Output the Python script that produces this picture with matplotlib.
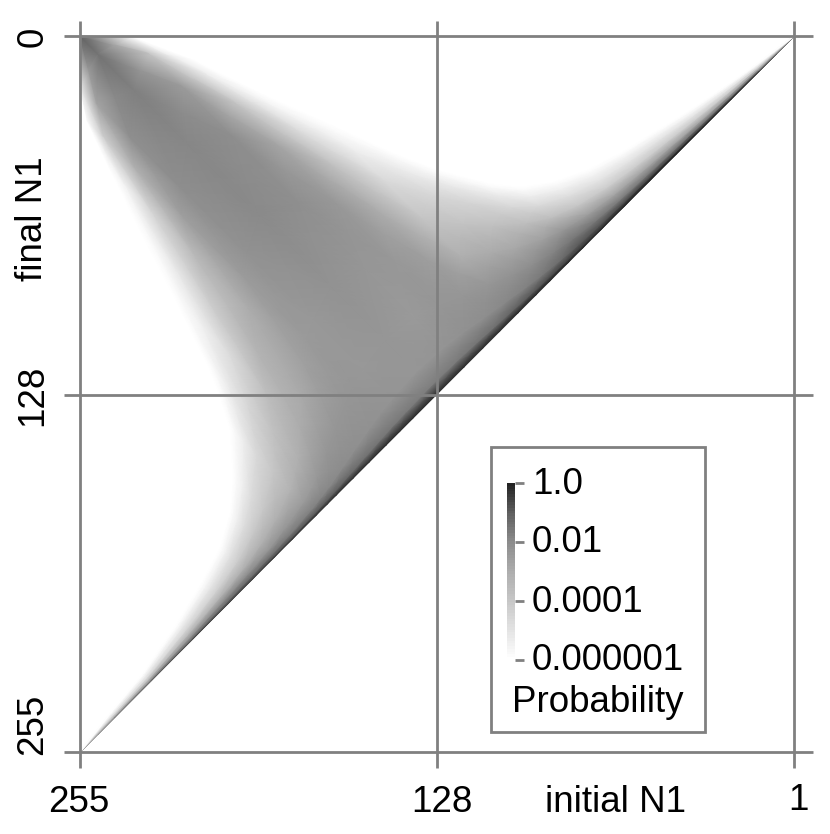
"""
Probability of the final N1 for a given initial N1, grey shaded on a log scale.
"""
import matplotlib
matplotlib.use('Agg')
import matplotlib.pyplot as plt
import numpy as np
from matplotlib.colors import LinearSegmentedColormap, Normalize
from matplotlib.patches import Rectangle

plt.rcParams['font.family'] = ['Liberation Sans', 'DejaVu Sans']

# The shaded area is read along rays that leave the diagonal and end on the
# outline of the area. Each ray: its start on the diagonal (initial N1) and
# its end point on the outline.
ray_start = [255.0, 242.7, 229.7, 214.8, 202.5, 193.6, 185.8, 179.4, 171.0,
             167.0, 163.9, 157.9, 152.2, 146.1, 141.3, 136.7, 127.6, 118.4,
             111.8, 105.8, 99.2, 92.8, 88.0, 81.4, 76.2, 69.5, 61.3, 52.4,
             42.9, 33.2, 23.4, 13.5, 1.0]
edge_initial = [255.0, 244.3, 232.6, 220.5, 211.2, 205.2, 201.6, 200.6, 201.6,
                205.2, 208.8, 220.5, 232.6, 244.3, 252.5, 255.0, 255.0, 236.1,
                214.8, 191.0, 167.1, 143.7, 128.0, 110.2, 98.5, 86.7, 74.6,
                62.9, 51.2, 39.1, 27.3, 15.6, 1.0]
edge_final = [255.0, 241.1, 226.9, 209.0, 193.7, 182.0, 169.9, 158.1, 140.3,
              128.6, 118.9, 95.1, 71.6, 47.7, 29.9, 18.2, 0.0, 0.4,
              8.5, 20.3, 31.0, 41.7, 47.7, 52.4, 53.8, 52.0, 47.7, 41.7,
              34.5, 27.1, 19.2, 11.0, 0.0]

# Where on each ray the values were read (0 = diagonal, 1 = outline)
ray_fraction = [0, 0.02, 0.06, 0.15, 0.3, 0.5, 0.7, 0.85, 0.95, 1]

# log10 of the probability, one row per ray
log_prob = [
    [-1.6, -1.9, -2.4, -3.0, -3.8, -4.6, -5.2, -5.6, -5.9, -6],
    [-1.19, -1.53, -2.15, -3.08, -4.2, -5.03, -5.53, -5.82, -5.96, -6],
    [-0.8, -1.07, -1.65, -2.6, -3.85, -4.82, -5.39, -5.75, -5.93, -6],
    [-0.54, -0.8, -1.42, -2.3, -3.46, -4.57, -5.21, -5.71, -5.93, -6],
    [-0.37, -0.71, -1.3, -2.0, -3.2, -4.4, -5.1, -5.64, -5.89, -6],
    [-0.34, -0.71, -1.3, -2.0, -3.08, -4.2, -4.93, -5.53, -5.89, -6],
    [-0.29, -0.8, -1.42, -2.3, -3.08, -4.04, -4.82, -5.46, -5.82, -6],
    [-0.29, -0.88, -1.65, -2.3, -3.08, -4.04, -4.75, -5.46, -5.82, -6],
    [-0.24, -0.95, -1.77, -2.45, -3.2, -3.96, -4.64, -5.39, -5.82, -6],
    [-0.24, -1.0, -1.85, -2.45, -3.08, -3.85, -4.57, -5.28, -5.82, -6],
    [-0.2, -1.05, -1.9, -2.36, -3.08, -3.77, -4.57, -5.28, -5.82, -6],
    [-0.2, -1.2, -2.0, -2.3, -2.97, -3.65, -4.75, -5.46, -5.82, -6],
    [-0.17, -1.4, -2.1, -2.3, -2.9, -3.27, -4.2, -5.17, -5.82, -6],
    [-0.12, -1.5, -2.15, -2.3, -2.6, -2.97, -3.46, -4.46, -5.53, -6],
    [-0.12, -1.55, -2.2, -2.3, -2.4, -2.45, -2.55, -3.1, -4.2, -5.82],
    [-0.12, -1.6, -2.25, -2.36, -2.35, -2.2, -2.05, -2.1, -2.7, -5.28],
    [-0.12, -1.7, -2.3, -2.3, -2.2, -1.95, -1.88, -1.72, -1.42, -1.07],
    [-0.12, -1.6, -2.25, -2.4, -2.3, -2.1, -2.05, -2.45, -3.9, -6],
    [-0.12, -1.5, -2.15, -2.3, -2.35, -2.35, -2.75, -3.9, -5.39, -6],
    [-0.1, -1.35, -2.05, -2.3, -2.54, -2.97, -3.73, -4.75, -5.64, -6],
    [-0.07, -1.1, -1.9, -2.3, -3.08, -3.92, -4.68, -5.35, -5.82, -6],
    [-0.05, -0.9, -1.75, -2.18, -2.94, -3.85, -4.57, -5.28, -5.78, -6],
    [-0.03, -0.75, -1.55, -2.06, -2.82, -3.73, -4.46, -5.21, -5.78, -6],
    [0, -0.54, -1.2, -1.77, -2.6, -3.65, -4.57, -5.28, -5.82, -6],
    [0, -0.46, -0.9, -1.5, -2.3, -3.65, -4.68, -5.39, -5.82, -6],
    [0, -0.34, -0.8, -1.53, -2.54, -3.96, -4.82, -5.46, -5.82, -6],
    [0, -0.2, -0.71, -1.65, -2.76, -4.2, -5.03, -5.53, -5.86, -6],
    [0, -0.1, -0.6, -1.6, -2.76, -4.2, -5.03, -5.55, -5.88, -6],
    [0, -0.03, -0.54, -1.53, -2.76, -4.2, -5.03, -5.57, -5.89, -6],
    [0, 0, -0.5, -1.5, -2.8, -4.25, -5.05, -5.6, -5.9, -6],
    [0, 0, -0.5, -1.5, -2.85, -4.3, -5.1, -5.6, -5.9, -6],
    [0, -0.02, -0.6, -1.6, -2.9, -4.4, -5.2, -5.64, -5.89, -6],
    [-0.5, -1.0, -1.6, -2.4, -3.3, -4.4, -5.2, -5.6, -5.9, -6],
]

# Axis marks
initial_ticks = [255, 128, 1]
final_ticks = [0, 128, 255]

# Legend scale
legend_logs = [0, -2, -4, -6]
legend_labels = ['1.0', '0.01', '0.0001', '0.000001']

# Grey of the scale, from -6 (white) up to 0 (dark)
scale_greys = [1.0, 0.89, 0.78, 0.68, 0.55, 0.38, 0.14]

LINE = '#808080'
grey_map = LinearSegmentedColormap.from_list(
    'prob', [(i / 6, str(g)) for i, g in enumerate(scale_greys)])
norm = Normalize(vmin=-6, vmax=0)

fig = plt.figure(figsize=(8.30, 8.34), dpi=100)

# Main axes fill the figure, limits put the N1 values at their pixel places
ax = fig.add_axes([0, 0, 1, 1])
ax.set_xlim(283.46, -11.8)
ax.set_ylim(284.2, -12.82)
ax.axis('off')

start = np.array(ray_start)
start_final = (start - 1) * 255 / 254
frac = np.array(ray_fraction)[None, :]
X = start[:, None] + frac * (np.array(edge_initial) - start)[:, None]
Y = start_final[:, None] + frac * (np.array(edge_final) - start_final)[:, None]
ax.pcolormesh(X, Y, np.array(log_prob), cmap=grey_map, norm=norm,
              shading='gouraud', zorder=1)

for value in initial_ticks:
    ax.plot([value, value], [-5.3, 260.7], color=LINE, lw=2.0, zorder=3,
            solid_capstyle='butt')
for value in final_ticks:
    ax.plot([260.7, -5.7], [value, value], color=LINE, lw=2.0, zorder=3,
            solid_capstyle='butt')

# Overlay in pixels for the texts and the legend box
px = fig.add_axes([0, 0, 1, 1])
px.axis('off')
px.patch.set_alpha(0)

size = 26.5
px.text(79, 803, str(initial_ticks[0]), fontsize=size, ha='center', va='center')
px.text(442, 802, str(initial_ticks[1]), fontsize=size, ha='center', va='center')
px.text(798, 800, str(initial_ticks[2]), fontsize=size, ha='center', va='center')
px.text(615, 803, 'initial N1', fontsize=size, ha='center', va='center')
px.text(33, 37, str(final_ticks[0]), fontsize=size, ha='center', va='center',
        rotation=90)
px.text(33, 395, str(final_ticks[1]), fontsize=size, ha='center', va='center',
        rotation=90)
px.text(33, 724, str(final_ticks[2]), fontsize=size, ha='center', va='center',
        rotation=90)
px.text(33, 219, 'final N1', fontsize=size, ha='center', va='center',
        rotation=90)

px.add_patch(Rectangle((491, 447), 214, 285, facecolor='white', edgecolor=LINE,
                       lw=2.0, zorder=4))
ramp = np.linspace(0, -6, 64)[:, None]
px.imshow(ramp, cmap=grey_map, norm=norm, extent=(507, 515, 660, 483),
          aspect='auto', zorder=5, interpolation='nearest')
px.set_xlim(0, 830)
px.set_ylim(834, 0)

# Scale ticks and labels: -log10 P runs linearly down the bar
for value, label in zip(legend_logs, legend_labels):
    y = 483 + (660 - 483) * (-value / 6)
    px.plot([515, 524], [y, y], color=LINE, lw=2.0, zorder=5,
            solid_capstyle='butt')
    px.text(532, y + 1, label, fontsize=size, ha='left', va='center', zorder=6)
px.text(598, 702, 'Probability', fontsize=size, ha='center', va='center',
        zorder=6)

fig.savefig('out.png', dpi=100)
